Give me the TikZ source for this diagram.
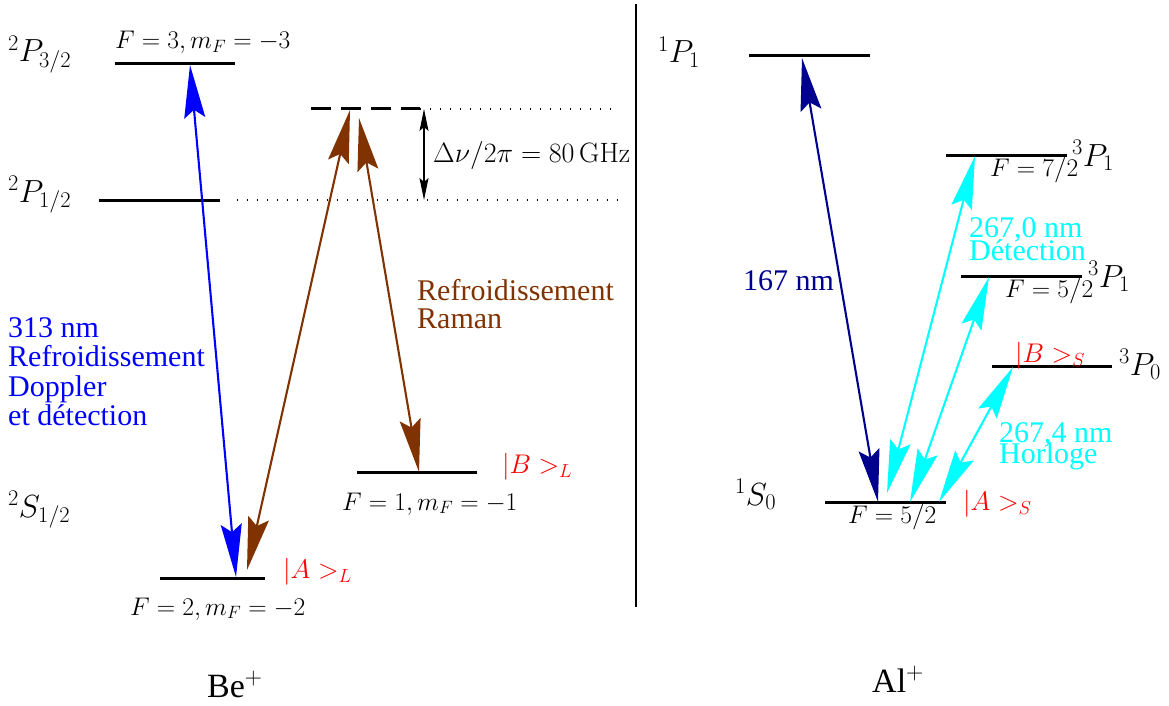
\RequirePackage{fix-cm}
\documentclass[tikz,border=0pt]{standalone}
\usepackage[no-math]{fontspec}
\setmainfont{Liberation Serif}
\usetikzlibrary{arrows.meta}
\definecolor{bluefig}{RGB}{0,0,255}
\definecolor{brownfig}{RGB}{128,51,0}
\definecolor{navyfig}{RGB}{0,0,143}
\definecolor{cyanfig}{RGB}{0,255,255}
\definecolor{redfig}{RGB}{255,0,0}
\begin{document}
\begin{tikzpicture}[x=1pt,y=-1pt,
  level/.style={line width=3pt},
  bighead/.tip={Stealth[length=53pt,width=21pt,inset=8pt]},
  trans/.style={line width=2.1pt,bighead-bighead},
  smallarrow/.style={line width=1.2pt,{Stealth[length=22pt,width=9pt,inset=4pt]}-{Stealth[length=22pt,width=9pt,inset=4pt]}},
  dotline/.style={line width=1.4pt,dash pattern=on 1.4pt off 8.6pt},
  dashline/.style={line width=3pt,dash pattern=on 20pt off 10pt},
  lbl/.style={inner sep=0pt,anchor=base west},
  term/.style={lbl,font=\fontsize{32}{32}\selectfont},
  qn/.style={lbl,font=\fontsize{25.5}{25.5}\selectfont},
  st/.style={lbl,text=redfig,font=\fontsize{27}{27}\selectfont},
  txt/.style={lbl,font=\fontsize{30}{30}\selectfont},
  ion/.style={lbl,font=\fontsize{34}{34}\selectfont},
]
\useasboundingbox (0,0) rectangle (1169,706);

% ---------- Be+ levels ----------
\draw[level] (115,64) coordinate (P32l) -- (235,64) coordinate (P32r);
\draw[level] (99,200) coordinate (P12l) -- (220,200) coordinate (P12r);
\draw[dashline] (311,109) coordinate (virtl) -- (420,109) coordinate (virtr);
\draw[level] (160,578) coordinate (ALl) -- (265,578) coordinate (ALr);
\draw[level] (357,472) coordinate (BLl) -- (477,472) coordinate (BLr);
\coordinate (dotAend) at (615,109);
\coordinate (dotBstart) at (237,200);
\coordinate (dotBend) at (620,200);
\draw[dotline] (virtr) -- (dotAend);
\draw[dotline] (dotBstart) -- (dotBend);

% detuning arrow
\coordinate (detTop) at (424,109);
\coordinate (detBot) at (424,200);
\draw[smallarrow] (detTop) -- (detBot);

% divider
\coordinate (divTop) at (636,4);
\coordinate (divBot) at (636,607);
\draw[line width=2.6pt] (divTop) -- (divBot);

% ---------- Al+ levels ----------
\draw[level] (749,56) coordinate (P1l) -- (870,56) coordinate (P1r);
\draw[level] (946,155) coordinate (Ta) -- (1067,155) coordinate (Tar);
\draw[level] (961,276) coordinate (Tb) -- (1082,276) coordinate (Tbr);
\draw[level] (992,366) coordinate (Tc) -- (1112,366) coordinate (Tcr);
\draw[level] (825,502) coordinate (S0l) -- (946,502) coordinate (S0r);

% ---------- transitions ----------
\coordinate (blueTop) at (190,65);
\coordinate (blueBot) at (236,577);
\draw[trans,bluefig] (blueBot) -- (blueTop);

\coordinate (brAtop) at (350,110);
\coordinate (brAbot) at (247,570);
\draw[trans,brownfig] (brAbot) -- (brAtop);

\coordinate (brBtop) at (359,118);
\coordinate (brBbot) at (419,472);
\draw[trans,brownfig] (brBtop) -- (brBbot);

\coordinate (navyTop) at (802,58);
\coordinate (navyBot) at (878,502);
\draw[trans,navyfig] (navyBot) -- (navyTop);

\coordinate (cAtop) at (975,156);
\coordinate (cAbot) at (887,493);
\draw[trans,cyanfig] (cAbot) -- (cAtop);

\coordinate (cBtop) at (989,277);
\coordinate (cBbot) at (910,502);
\draw[trans,cyanfig] (cBbot) -- (cBtop);

\coordinate (cCtop) at (1013,367);
\coordinate (cCbot) at (939,502);
\draw[trans,cyanfig] (cCbot) -- (cCtop);

% ---------- term labels ----------
\node[term] (tP32) at (8,62) {$^2P_{3/2}$};
\node[term] (tP12) at (8,202) {$^2P_{1/2}$};
\node[term] (tS12) at (8,517) {$^2S_{1/2}$};
\node[term] (tP1) at (658,63) {$^1P_1$};
\node[term] (t3P1a) at (1072,166) {$^3P_1$};
\node[term] (t3P1b) at (1088,287) {$^3P_1$};
\node[term] (t3P0) at (1119,375) {$^3P_0$};
\node[term] (tS0) at (735,505) {$^1S_0$};

% ---------- quantum numbers ----------
\node[qn] (qP32) at (115,49) {$F=3, m_F=-3$};
\node[qn] (qAL) at (130,615) {$F=2, m_F=-2$};
\node[qn] (qBL) at (342,510) {$F=1, m_F=-1$};
\node[qn] (qTa) at (990,176) {$F=7/2$};
\node[qn] (qTb) at (1005,297) {$F=5/2$};
\node[qn] (qS0) at (848,523) {$F=5/2$};
\node[lbl,font=\fontsize{28}{28}\selectfont] (qdet) at (433,162) {$\Delta\nu/2\pi=80\,\mathrm{GHz}$};

% ---------- states ----------
\node[st] (sAL) at (283,578) {$|A>_L$};
\node[st] (sBL) at (502,473) {$|B>_L$};
\node[st] (sBS) at (1015,362) {$|B>_S$};
\node[st] (sAS) at (963,510) {$|A>_S$};

% ---------- texts ----------
\node[txt,text=bluefig] (b1) at (8,337) {313 nm};
\node[txt,text=bluefig] (b2) at (8,366) {Refroidissement};
\node[txt,text=bluefig] (b3) at (8,396) {Doppler};
\node[txt,text=bluefig] (b4) at (8,425) {et détection};

\node[txt,text=brownfig] (r1) at (417,300) {Refroidissement};
\node[txt,text=brownfig] (r2) at (417,328) {Raman};

\node[txt,text=navyfig] (n1) at (743,290) {167 nm};

\node[txt,text=cyanfig] (c1) at (969,237) {267,0 nm};
\node[txt,text=cyanfig] (c2) at (969,260) {Détection};
\node[txt,text=cyanfig] (c3) at (999,442) {267,4 nm};
\node[txt,text=cyanfig] (c4) at (999,463) {Horloge};

\node[ion] (be) at (207,697) {Be$^+$};
\node[ion] (al) at (872,692) {Al$^+$};
\end{tikzpicture}
\end{document}
